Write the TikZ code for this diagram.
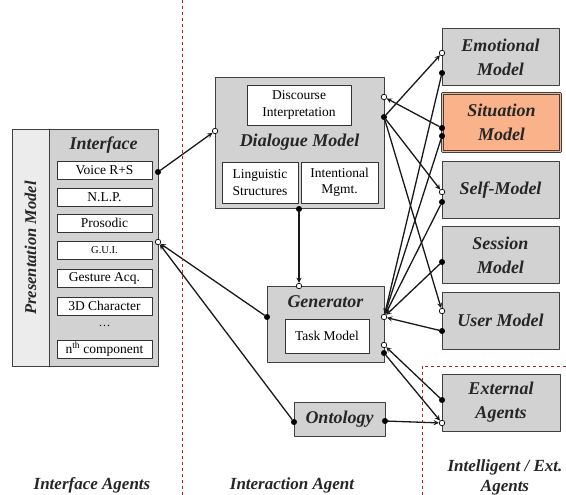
\documentclass[tikz,border=0pt]{standalone}
\usepackage{fontspec}
\setmainfont{Liberation Serif}
\definecolor{salmonbox}{RGB}{249,178,138}
\definecolor{zonered}{RGB}{180,30,40}
\begin{document}
\begin{tikzpicture}[x=1pt,y=-1pt,>=stealth, line join=round,
    panel/.style={draw=black!75,line width=1pt,fill=gray!35,inner sep=0pt},
    sub/.style={draw=black!80,line width=0.9pt,fill=white,inner sep=0pt,minimum width=95,minimum height=18,align=center,font=\fontsize{13.5}{16.5}\selectfont},
    ttl/.style={font=\fontsize{18}{24}\selectfont\bfseries\itshape,text=black!85,align=center},
    bdot/.style={circle,draw=black,fill=black,inner sep=0pt,minimum size=5.5pt},
    wdot/.style={circle,draw=black,line width=0.7pt,fill=white,inner sep=0pt,minimum size=5.5pt},
    link/.style={->,line width=1.3pt,black!90},
    zone/.style={zonered,dashed,line width=0.9pt}]
    \useasboundingbox[fill=white] (0,0) rectangle (566,495);
    % presentation model
    \node[panel,fill=gray!15,rotate=90,minimum width=236,minimum height=37,ttl,font=\fontsize{16.5}{20}\selectfont\bfseries\itshape] (pres) at (30.5,248) {Presentation Model};
    \node[panel,minimum width=109,minimum height=236] (intf) at (103.5,248) {};
    \node[ttl] at (103.5,145) {Interface};
    \foreach \y/\t [count=\i] in {170/Voice R+S,197/N.L.P.,223/Prosodic,250/{\fontsize{10.5}{12}\selectfont G.U.I.},278/Gesture Acq.,306/3D Character,349/n\textsuperscript{th} component}
        \node[sub] (comp\i) at (104.5,\y) {\t};
    \node[font=\fontsize{12}{14}\selectfont] at (104.5,326) {\dots};
    % interaction agent
    \node[panel,minimum width=169,minimum height=131] (dlg) at (299.5,143.5) {};
    \node[sub,minimum width=104,minimum height=40] (disc) at (299,105) {Discourse\\Interpretation};
    \node[ttl] at (299.5,142) {Dialogue Model};
    \node[sub,minimum width=76,minimum height=41] (ling) at (260,182.5) {Linguistic\\Structures};
    \node[sub,minimum width=77,minimum height=41] (intm) at (339.5,182.5) {Intentional\\Mgmt.};
    \node[panel,minimum width=117,minimum height=76] (gen) at (325.5,324) {};
    \node[ttl] at (325.5,302) {Generator};
    \node[sub,minimum width=84,minimum height=34] (task) at (327,336) {Task Model};
    \node[panel,ttl,minimum width=91,minimum height=34] (onto) at (339.5,419) {Ontology};
    % models and agents
    \foreach \y/\t/\n in {57/Emotional\\Model/emo,190/Self-Model/self,255/Session\\Model/sess,320.5/User Model/user}
        \node[panel,ttl,minimum width=117,minimum height=57] (\n) at (500.5,\y) {\t};
    \node[panel,ttl,fill=salmonbox,double=salmonbox,double distance=1.2pt,line width=0.7pt,minimum width=118,minimum height=58] (sit) at (501.5,122.5) {Situation\\Model};
    \node[panel,ttl,minimum width=118,minimum height=57] (ext) at (501,402.5) {External\\Agents};
    % dots
    \foreach \n/\x/\y in {ifout/158/172,dmbot/299/209,dmrout/384/117,gleft/267/317,gxout/384/353,oleft/294/422,oright/385/421,exout/442/400,emout/442/73,siouta/442/128,sioutb/442/136,sfout/442/202,seout/442/262,usout/442/331}
        \node[bdot] (\n) at (\x,\y) {};
    \foreach \n/\x/\y in {ifin/158/242,dmin/215/131,dmrin/384/97,gtop/299/286,grin/384/317,gxin/384/345,exin/442/423,emin/442/53,sfin/442/192,usin/442/311}
        \node[wdot] (\n) at (\x,\y) {};
    \foreach \a/\b in {ifout/dmin,gleft/ifin,oleft/ifin,dmbot/gtop,dmrout/emin,siouta/dmrin,dmrout/sfin,dmrout/usin,emout/grin,sioutb/grin,sfout/grin,seout/grin,usout/grin,exout/gxin,gxout/exin,oright/exin}
        \draw[link] (\a) -- (\b);
    % zones
    \draw[zone] (182,0) -- (182,495);
    \draw[zone] (422,495) -- (422,366) -- (566,366);
    \node[ttl,anchor=base,font=\fontsize{17}{20}\selectfont\bfseries\itshape] (ifag) at (92,489) {Interface Agents};
    \node[ttl,anchor=base,font=\fontsize{17}{20}\selectfont\bfseries\itshape] (inag) at (292,489) {Interaction Agent};
    \node[ttl,font=\fontsize{17}{20}\selectfont\bfseries\itshape] (exag) at (505,477) {Intelligent / Ext.\\Agents};
\end{tikzpicture}
\end{document}
